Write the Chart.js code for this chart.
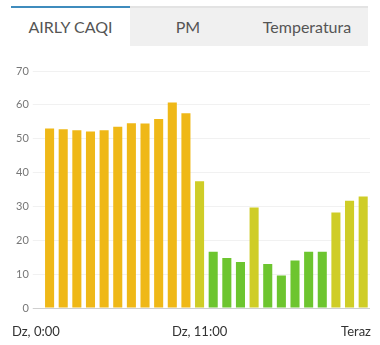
<!DOCTYPE html>
<html>
<head>
<meta charset="utf-8">
<script src="https://cdn.jsdelivr.net/npm/chart.js@4/dist/chart.umd.min.js"></script>
<style>
  body { margin: 0; background: #fff; font-family: Lato, sans-serif; }
  .tabs { position: absolute; top: 6px; left: 11px; width: 357px; height: 40px; display: flex; }
  .tab { box-sizing: border-box; height: 40px; line-height: 38px; text-align: center; font-size: 16px; color: #555; background: #f0f0f0; border-top: 2px solid #e3e3e3; }
  .tab.active { background: #fff; border-top: 2px solid #3f8cbd; color: #555; }
  .wrap { position: absolute; top: 57px; left: 0; width: 380px; height: 288px; }
</style>
</head>
<body>
<div class="tabs">
  <div class="tab active" style="width:119px">AIRLY CAQI</div>
  <div class="tab" style="width:116px">PM</div>
  <div class="tab" style="width:122px">Temperatura</div>
</div>
<div class="wrap"><canvas id="chart"></canvas></div>
<script>
// odczyty CAQI z ostatnich 24 godzin
const hours = ['Dz, 0:00', '1:00', '2:00', '3:00', '4:00', '5:00', '6:00', '7:00', '8:00', '9:00', '10:00',
  'Dz, 11:00', '12:00', '13:00', '14:00', '15:00', '16:00', '17:00', '18:00', '19:00', '20:00', '21:00', '22:00', 'Teraz'];
const caqi = [53.0, 52.8, 52.5, 52.1, 52.5, 53.5, 54.6, 54.5, 55.8, 60.7, 57.5,
  37.4, 16.6, 14.8, 13.6, 29.7, 13.0, 9.6, 14.0, 16.6, 16.6, 28.2, 31.7, 32.9];
const shownLabels = ['Dz, 0:00', 'Dz, 11:00', 'Teraz'];
const yTicks = [0, 10, 20, 30, 40, 50, 60, 70];

function barColor(v) {
  if (v < 25) return '#6dc52f';
  if (v < 50) return '#cfcd27';
  return '#efb817';
}

// etykiety osi X rysowane recznie
const xLabels = {
  id: 'xLabels',
  afterDraw(chart) {
    const ctx = chart.ctx;
    const x = chart.scales.x;
    const y = chart.chartArea.bottom + 24;
    ctx.save();
    ctx.font = '13px Lato, sans-serif';
    ctx.fillStyle = '#333';
    ctx.textBaseline = 'middle';
    hours.forEach((h, i) => {
      if (!shownLabels.includes(h)) return;
      let px = x.getPixelForValue(i);
      if (i === 0) { ctx.textAlign = 'left'; px = 12; }
      else if (i === hours.length - 1) { ctx.textAlign = 'right'; px = chart.chartArea.right + 1; }
      else ctx.textAlign = 'center';
      ctx.fillText(h, px, y);
    });
    ctx.restore();
  }
};

new Chart(document.getElementById('chart'), {
  type: 'bar',
  data: {
    labels: hours,
    datasets: [{
      data: caqi,
      backgroundColor: caqi.map(barColor),
      categoryPercentage: 0.7,
      barPercentage: 0.95
    }]
  },
  options: {
    responsive: true,
    maintainAspectRatio: false,
    animation: false,
    layout: { padding: { left: 12, right: 10, top: 14, bottom: 29 } },
    plugins: { legend: { display: false }, tooltip: { enabled: false } },
    scales: {
      x: {
        grid: { display: false },
        border: { display: false },
        ticks: { display: false }
      },
      y: {
        min: 0,
        max: 70,
        afterBuildTicks: s => { s.ticks = yTicks.map(v => ({ value: v })); },
        grid: {
          color: c => c.tick && c.tick.value === 0 ? '#cfcfcf' : '#f1f1f1',
          tickLength: 10
        },
        border: { display: false },
        ticks: { font: { family: 'Lato', size: 11 }, color: '#777', padding: 4 }
      }
    }
  },
  plugins: [xLabels]
});
</script>
</body>
</html>
